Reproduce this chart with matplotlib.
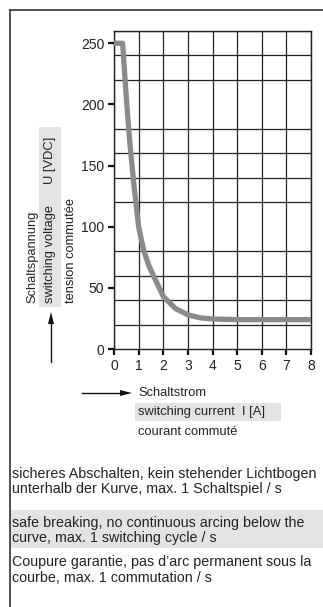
import matplotlib
matplotlib.use('Agg')
import matplotlib.pyplot as plt
from matplotlib.patches import Rectangle, Polygon

# switching current I [A] and max. switching voltage U [VDC]
current = [0, 0.35, 0.45, 0.55, 0.65, 0.83, 1.0, 1.2, 1.4, 1.6, 2.0, 2.5, 3.0, 3.5, 4.0, 5.0, 6.0, 7.0, 8.0]
voltage = [250, 250, 220, 192, 167, 130, 100, 81, 69, 60, 43, 33, 28, 25.5, 24.5, 24, 24, 24, 24]

x_ticks = [0, 1, 2, 3, 4, 5, 6, 7, 8]
y_ticks = [0, 50, 100, 150, 200, 250]

notes = [
    "sicheres Abschalten, kein stehender Lichtbogen\nunterhalb der Kurve, max. 1 Schaltspiel / s",
    "safe breaking, no continuous arcing below the\ncurve, max. 1 switching cycle / s",
    "Coupure garantie, pas d\u2019arc permanent sous la\ncourbe, max. 1 commutation / s",
]

plt.rcParams['font.family'] = ['Liberation Sans', 'DejaVu Sans']
TXT = '#222222'
SHADE = '#e3e3e3'
FS = 9.3        # axis captions
FS_NOTE = 10.3  # notes below the chart

W, H = 323, 607
fig = plt.figure(figsize=(W / 100, H / 100), dpi=100)


def fx(px):
    return px / W


def fy(py):
    return 1 - py / H


def shade(x0, y0, x1, y1):
    fig.add_artist(Rectangle((fx(x0), fy(y1)), fx(x1) - fx(x0), fy(y0) - fy(y1),
                             transform=fig.transFigure, color=SHADE, lw=0, zorder=0))


def arrow_head(pts):
    fig.add_artist(Polygon([[fx(a), fy(b)] for a, b in pts], closed=True,
                           transform=fig.transFigure, color='#111111', lw=0))


# outer frame (top and left edges)
fig.add_artist(plt.Line2D([fx(9.5), 1], [fy(9.5), fy(9.5)], transform=fig.transFigure, color='#333333', lw=1.2))
fig.add_artist(plt.Line2D([fx(9.5), fx(9.5)], [fy(9.5), 0], transform=fig.transFigure, color='#333333', lw=1.2))

ax = fig.add_axes([fx(114), fy(349), fx(311) - fx(114), fy(31) - fy(349)])
ax.set_xlim(0, 8)
ax.set_ylim(0, 260)
ax.set_xticks(x_ticks)
ax.set_yticks(y_ticks)
ax.set_yticks(range(0, 261, 20), minor=True)
ax.grid(True, which='major', axis='x', color='#222222', lw=0.9)
ax.grid(True, which='minor', axis='y', color='#222222', lw=0.9)
ax.tick_params(axis='y', which='minor', length=0)
ax.tick_params(axis='both', which='major', direction='out', length=4, width=1.6, color='#111111',
               labelsize=10, labelcolor=TXT, pad=3)
for s in ax.spines.values():
    s.set_color('#222222')
    s.set_linewidth(1.0)

ax.plot(current, voltage, color='#8a8a8a', lw=3.8, solid_capstyle='round', solid_joinstyle='round', zorder=3)

# y axis label block
shade(39, 127, 60.5, 307)
fig.text(fx(32), fy(303), 'Schaltspannung', rotation=90, ha='center', va='bottom', fontsize=FS, color=TXT)
fig.text(fx(50.5), fy(303), 'switching voltage', rotation=90, ha='center', va='bottom', fontsize=FS, color=TXT)
fig.text(fx(50.5), fy(137), 'U [VDC]', rotation=90, ha='center', va='top', fontsize=FS, color=TXT)
fig.text(fx(70.5), fy(303), 'tension commut\u00e9e', rotation=90, ha='center', va='bottom', fontsize=FS, color=TXT)
fig.add_artist(plt.Line2D([fx(51), fx(51)], [fy(362), fy(322)], transform=fig.transFigure, color='#111111', lw=1.0))
arrow_head([(48, 324), (54, 324), (51, 312)])

# x axis label block
shade(135, 403, 281, 421)
fig.add_artist(plt.Line2D([fx(82), fx(122)], [fy(393), fy(393)], transform=fig.transFigure, color='#111111', lw=1.0))
arrow_head([(120, 390), (120, 396), (132, 393)])
fig.text(fx(138), fy(393), 'Schaltstrom', ha='left', va='center', fontsize=FS, color=TXT)
fig.text(fx(138), fy(412), 'switching current', ha='left', va='center', fontsize=FS, color=TXT)
fig.text(fx(242), fy(412), 'I [A]', ha='left', va='center', fontsize=FS, color=TXT)
fig.text(fx(138), fy(432), 'courant commut\u00e9', ha='left', va='center', fontsize=FS, color=TXT)

# notes in three languages, english one shaded
shade(10, 510, 323, 548)
for note, y in zip(notes, [481.5, 530.5, 570]):
    fig.text(fx(12), fy(y), note, ha='left', va='center', fontsize=FS_NOTE, color=TXT, linespacing=1.18)

fig.savefig('out.png', dpi=100)
